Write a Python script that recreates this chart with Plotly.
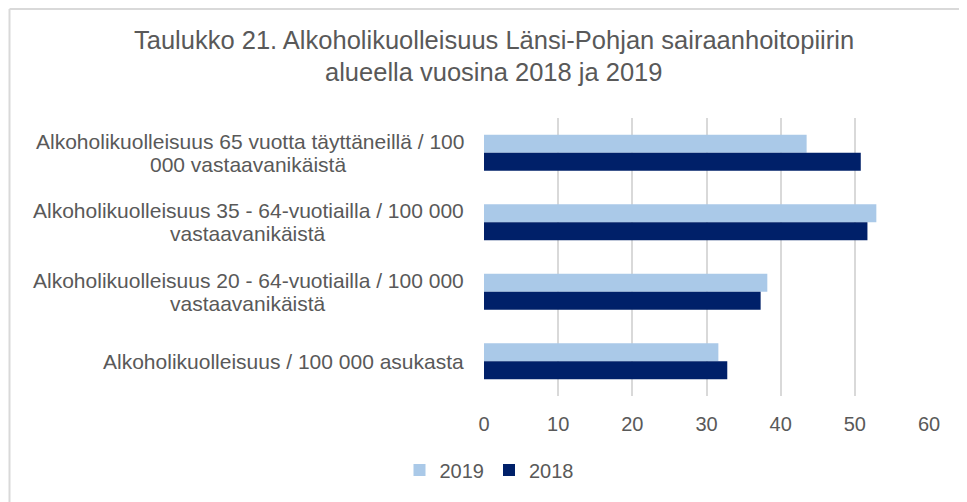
import plotly.graph_objects as go

categories = [
    "Alkoholikuolleisuus 65 vuotta täyttäneillä / 100<br>000 vastaavanikäistä",
    "Alkoholikuolleisuus 35 - 64-vuotiailla / 100 000<br>vastaavanikäistä",
    "Alkoholikuolleisuus 20 - 64-vuotiailla / 100 000<br>vastaavanikäistä",
    "Alkoholikuolleisuus / 100 000 asukasta",
]
values_2019 = [43.5, 52.9, 38.2, 31.6]
values_2018 = [50.8, 51.7, 37.3, 32.8]
x_ticks = [0, 10, 20, 30, 40, 50, 60]
title_lines = [
    "Taulukko 21. Alkoholikuolleisuus Länsi-Pohjan sairaanhoitopiirin",
    "alueella vuosina 2018 ja 2019",
]

FONT = "Arial, Liberation Sans, sans-serif"
GRAY = "#595959"

# page has an 8px body margin; figure pixel = page pixel - 8
OFF = 8
W, H = 967 - OFF, 502 - OFF
L, R, T, B = 484 - OFF, 38, 118 - OFF, 106
pw, ph = W - L - R, H - T - B


def px(page_x):
    return (page_x - OFF - L) / pw


def py(page_y):
    return (H - B - (page_y - OFF)) / ph


fig = go.Figure()
fig.add_trace(go.Bar(y=categories, x=values_2019, name="2019", orientation="h",
                     marker=dict(color="#aac9e8", line=dict(width=0))))
fig.add_trace(go.Bar(y=categories, x=values_2018, name="2018", orientation="h",
                     marker=dict(color="#002069", line=dict(width=0))))

# category labels: right-aligned block, lines centred, tight line spacing
LINE = 23
GAP = 18
BLOCK_CENTER = -236
for c in categories:
    lines = c.split("<br>")
    n = len(lines)
    for i, ln in enumerate(lines):
        if i == 0:
            anchor, shift = "right", -GAP
        else:
            anchor, shift = "center", BLOCK_CENTER
        fig.add_annotation(x=0, xref="paper", y=c, yref="y", text=ln, showarrow=False,
                           xanchor=anchor, yanchor="middle",
                           xshift=shift, yshift=((n - 1) / 2 - i) * LINE,
                           font=dict(family=FONT, size=21, color=GRAY))

# title lines
for ln, cy in zip(title_lines, [40, 72]):
    fig.add_annotation(x=px(493.5), xref="paper", y=py(cy), yref="paper", text=ln,
                       showarrow=False, xanchor="center", yanchor="middle",
                       font=dict(family=FONT, size=25.5, color=GRAY))

# chart border (top and left visible)
fig.add_shape(type="line", xref="paper", yref="paper", x0=px(9.5), x1=px(1100),
              y0=py(9), y1=py(9), line=dict(color="#d9d9d9", width=2))
fig.add_shape(type="line", xref="paper", yref="paper", x0=px(9.5), x1=px(9.5),
              y0=py(9), y1=py(600), line=dict(color="#d9d9d9", width=2))

fig.update_layout(
    width=W, height=H,
    margin=dict(l=L, r=R, t=T, b=B),
    paper_bgcolor="white", plot_bgcolor="white",
    barmode="group", bargap=0.48, bargroupgap=0,
    xaxis=dict(range=[0, 60], tickvals=x_ticks, showgrid=True, gridcolor="#d9d9d9",
               gridwidth=1.5, zeroline=False, showline=False, ticks="",
               tickfont=dict(family=FONT, size=20, color=GRAY), ticklabelstandoff=14),
    yaxis=dict(autorange="reversed", showticklabels=False, showgrid=False,
               zeroline=False, showline=False, ticks=""),
    legend=dict(orientation="h", xref="container", yref="container",
                x=(489 - OFF) / W, xanchor="center", y=1 - (470 - OFF) / H, yanchor="middle",
                font=dict(family=FONT, size=20, color=GRAY), traceorder="normal",
                itemwidth=30),
    showlegend=True,
)

fig.write_html("out.html")
